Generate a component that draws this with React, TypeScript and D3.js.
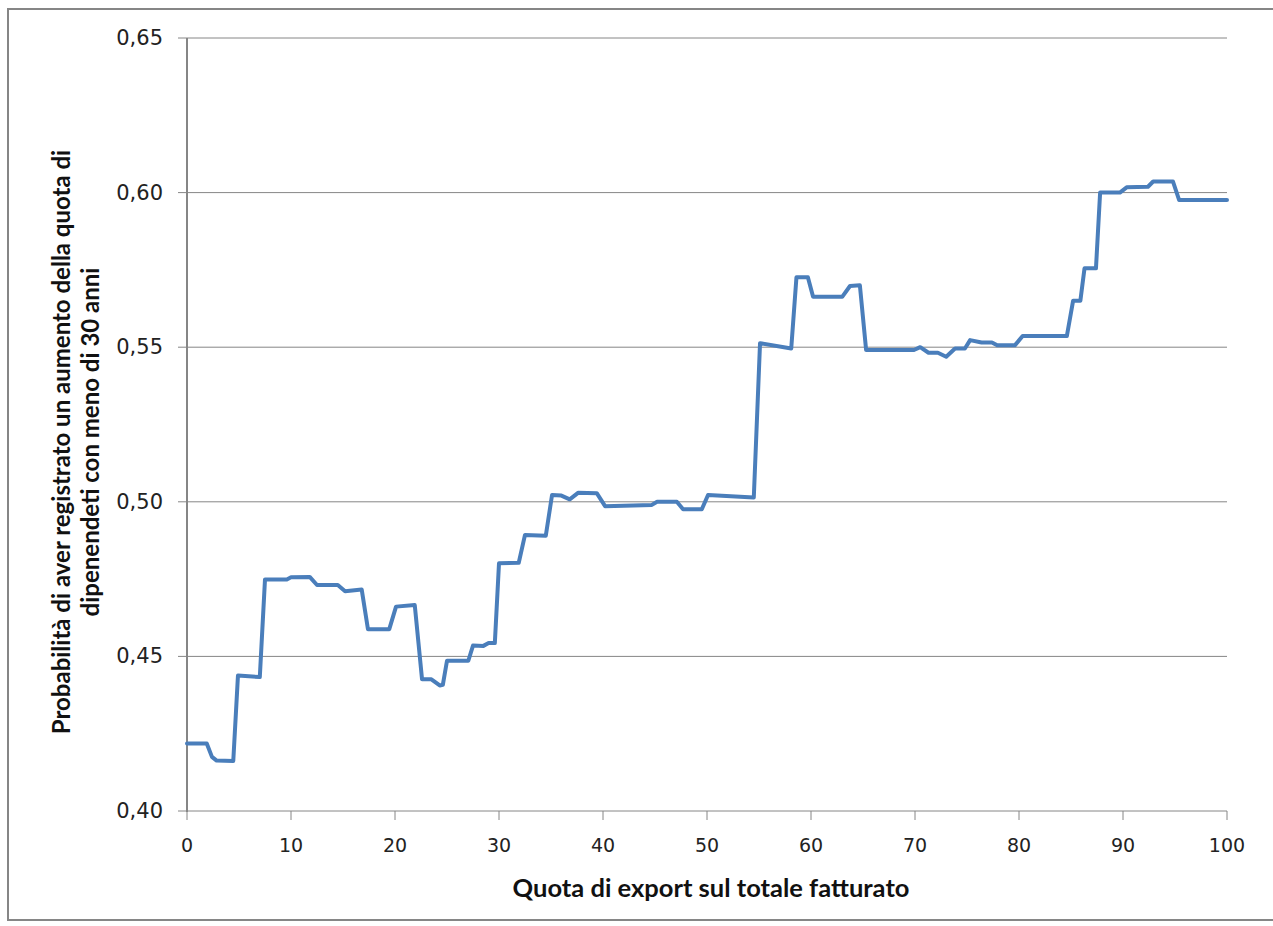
import React from "react";
import * as d3 from "d3";

const xValues = [
  0, 1.9, 2.4, 2.85, 4.45, 4.9, 7.0, 7.5, 9.6, 10.0, 11.8, 12.5, 14.5, 15.2, 16.8, 17.4,
  19.45, 20.1, 21.9, 22.6, 23.5, 24.3, 24.6, 25.0, 27.05, 27.5, 28.5, 29.0, 29.6, 30.0,
  31.9, 32.5, 34.5, 35.1, 36.0, 36.8, 37.6, 39.4, 40.2, 44.7, 45.2, 47.1, 47.7, 49.5,
  50.1, 54.5, 55.1, 58.1, 58.6, 59.7, 60.2, 63.0, 63.75, 64.7, 65.3, 69.9, 70.5, 71.3,
  72.2, 73.0, 73.85, 74.8, 75.3, 76.4, 77.4, 77.9, 79.6, 80.35, 84.6, 85.2, 85.9, 86.3,
  87.4, 87.8, 89.7, 90.35, 92.4, 92.9, 94.8, 95.4, 100,
];
const probValues = [
  0.4218, 0.4218, 0.4175, 0.4163, 0.4162, 0.4438, 0.4433, 0.4749, 0.4749, 0.4756, 0.4757,
  0.4731, 0.4731, 0.4711, 0.4716, 0.4588, 0.4588, 0.4661, 0.4666, 0.4426, 0.4426, 0.4406,
  0.4408, 0.4486, 0.4486, 0.4535, 0.4534, 0.4543, 0.4543, 0.4801, 0.4803, 0.4893, 0.489,
  0.5022, 0.502, 0.5008, 0.5029, 0.5028, 0.4986, 0.499, 0.5, 0.5, 0.4976, 0.4976, 0.5022,
  0.5014, 0.5513, 0.5496, 0.5726, 0.5726, 0.5663, 0.5663, 0.5698, 0.57, 0.5491, 0.5491,
  0.55, 0.5482, 0.5482, 0.5469, 0.5496, 0.5496, 0.5523, 0.5515, 0.5515, 0.5506, 0.5506,
  0.5536, 0.5536, 0.565, 0.565, 0.5755, 0.5755, 0.6, 0.6, 0.6017, 0.6019, 0.6036, 0.6036,
  0.5976, 0.5976,
];
const xTicks = [0, 10, 20, 30, 40, 50, 60, 70, 80, 90, 100];
const yTicks = [0.4, 0.45, 0.5, 0.55, 0.6, 0.65];
const xTitle = "Quota di export sul totale fatturato";
const yTitleLines = [
  "Probabilità di aver registrato un aumento della quota di",
  "dipenendeti con meno di 30 anni",
];

export default function App() {
  const W = 1273;
  const H = 926;
  const left = 187, right = 1227, top = 38, bottom = 811;
  const x = d3.scaleLinear().domain([0, 100]).range([left, right]);
  const y = d3.scaleLinear().domain([0.4, 0.65]).range([bottom, top]);
  const pts: [number, number][] = xValues.map((v, i) => [v, probValues[i]]);
  const line = d3
    .line<[number, number]>()
    .x((d) => x(d[0]))
    .y((d) => y(d[1]))
    .curve(d3.curveLinear);
  const fmt = (v: number) => v.toFixed(2).replace(".", ",");
  const gray = "#868686";
  return (
    <svg
      width={W}
      height={H}
      style={{ position: "absolute", left: 0, top: 0, background: "#fff" }}
    >
      <rect x={8} y={9} width={1300} height={911} fill="#fff" stroke={gray} strokeWidth={2} />
      {yTicks.slice(1).map((t) => (
        <line key={"g" + t} x1={left} x2={right} y1={y(t)} y2={y(t)} stroke={gray} strokeWidth={1} />
      ))}
      {yTicks.map((t) => (
        <g key={"yt" + t}>
          <line x1={left - 9} x2={left} y1={y(t)} y2={y(t)} stroke={gray} strokeWidth={1} />
          <text
            x={163}
            y={y(t)}
            textAnchor="end"
            dominantBaseline="central"
            fontFamily="DejaVu Sans"
            fontSize={21}
            fill="#222"
          >
            {fmt(t)}
          </text>
        </g>
      ))}
      <line x1={left} x2={left} y1={top} y2={bottom + 1} stroke={gray} strokeWidth={2} />
      <line x1={left} x2={right} y1={bottom} y2={bottom} stroke={gray} strokeWidth={1} />
      {xTicks.map((t) => (
        <g key={"xt" + t}>
          <line x1={x(t)} x2={x(t)} y1={bottom} y2={bottom + 9} stroke={gray} strokeWidth={1} />
          <text
            x={x(t)}
            y={845}
            textAnchor="middle"
            dominantBaseline="central"
            fontFamily="DejaVu Sans"
            fontSize={19}
            fill="#222"
          >
            {t}
          </text>
        </g>
      ))}
      <path
        d={line(pts) || ""}
        fill="none"
        stroke="#4a7ebb"
        strokeWidth={4}
        strokeLinejoin="round"
        strokeLinecap="round"
      />
      <text
        x={711}
        y={887}
        textAnchor="middle"
        dominantBaseline="central"
        fontFamily="Lato"
        fontWeight="bold"
        fontSize={25.5}
        fill="#111"
      >
        {xTitle}
      </text>
      {yTitleLines.map((s, i) => (
        <text
          key={s}
          transform={`translate(${60 + i * 29},442) rotate(-90)`}
          textAnchor="middle"
          dominantBaseline="central"
          fontFamily="Lato"
          fontWeight="bold"
          fontSize={24}
          fill="#111"
        >
          {s}
        </text>
      ))}
    </svg>
  );
}
